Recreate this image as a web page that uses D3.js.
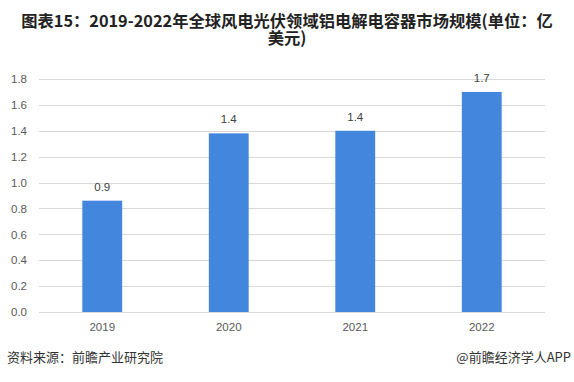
<!DOCTYPE html>
<html>
<head>
<meta charset="utf-8">
<script src="https://cdn.jsdelivr.net/npm/d3@7"></script>
<style>
body { margin: 0; background: #fff; }
svg text { font-family: "Noto Sans CJK SC", "Noto Sans", sans-serif; }
</style>
</head>
<body>
<div id="chartArea"></div>
<script>
const years = ["2019", "2020", "2021", "2022"];
const values = [0.86, 1.38, 1.40, 1.70];
const labels = ["0.9", "1.4", "1.4", "1.7"];
const yTicks = [0, 0.2, 0.4, 0.6, 0.8, 1.0, 1.2, 1.4, 1.6, 1.8];
const titleLines = ["图表15：2019-2022年全球风电光伏领域铝电解电容器市场规模(单位：亿", "美元)"];
const source = "资料来源：前瞻产业研究院";
const credit = "@前瞻经济学人APP";

const w = 574;
const h = 382;
const margin = {top: 79, right: 29, bottom: 70, left: 39};

const svg = d3.select("#chartArea")
    .append("svg")
    .attr("width", w)
    .attr("height", h);

// title, two lines
svg.selectAll("text.title")
    .data(titleLines)
    .enter()
    .append("text")
    .attr("class", "title")
    .attr("x", 287)
    .attr("y", (d, i) => 27 + i * 17)
    .attr("text-anchor", "middle")
    .attr("font-size", 16.3)
    .attr("font-weight", "bold")
    .attr("fill", "#222")
    .text(d => d);

let x = d3.scaleBand()
    .domain(years)
    .range([margin.left, w - margin.right])
    .paddingInner(0.685)
    .paddingOuter(0.3425);

let y = d3.scaleLinear()
    .domain([0, 1.8])
    .range([h - margin.bottom, margin.top]);

// gridlines
svg.append("g")
    .selectAll("line")
    .data(yTicks)
    .enter()
    .append("line")
    .attr("x1", margin.left)
    .attr("x2", w - margin.right)
    .attr("y1", d => Math.round(y(d)) + 0.5)
    .attr("y2", d => Math.round(y(d)) + 0.5)
    .attr("stroke", "#d9d9d9")
    .attr("stroke-width", 1);

let yAxis = d3.axisLeft(y)
    .tickValues(yTicks)
    .tickFormat(d3.format(".1f"))
    .tickSize(0)
    .tickPadding(12);

svg.append("g")
    .attr("transform", `translate(${margin.left},0)`)
    .call(yAxis)
    .call(g => g.select(".domain").remove())
    .call(g => g.selectAll("text")
        .attr("font-size", 11.5)
        .attr("fill", "#595959")
        .style("font-family", "'Liberation Sans', sans-serif"));

let xAxis = d3.axisBottom(x)
    .tickSize(0)
    .tickPadding(11);

svg.append("g")
    .attr("transform", `translate(0,${h - margin.bottom})`)
    .call(xAxis)
    .call(g => g.select(".domain").remove())
    .call(g => g.selectAll("text")
        .attr("font-size", 11.5)
        .attr("fill", "#595959")
        .style("font-family", "'Liberation Sans', sans-serif"));

svg.selectAll("rect.bar")
    .data(values)
    .enter()
    .append("rect")
    .attr("class", "bar")
    .attr("x", (d, i) => x(years[i]))
    .attr("y", d => y(d))
    .attr("width", x.bandwidth())
    .attr("height", d => y(0) - y(d))
    .attr("fill", "#4286de");

svg.selectAll("text.lbl")
    .data(values)
    .enter()
    .append("text")
    .attr("class", "lbl")
    .attr("x", (d, i) => x(years[i]) + x.bandwidth() / 2)
    .attr("y", d => y(d) - 10)
    .attr("text-anchor", "middle")
    .attr("font-size", 11.5)
    .attr("fill", "#404040")
    .style("font-family", "'Liberation Sans', sans-serif")
    .text((d, i) => labels[i]);

svg.append("text")
    .attr("x", 7)
    .attr("y", 362)
    .attr("font-size", 13)
    .attr("fill", "#333")
    .text(source);

svg.append("text")
    .attr("x", w - 3)
    .attr("y", 362)
    .attr("text-anchor", "end")
    .attr("font-size", 13)
    .attr("fill", "#333")
    .text(credit);
</script>
</body>
</html>
